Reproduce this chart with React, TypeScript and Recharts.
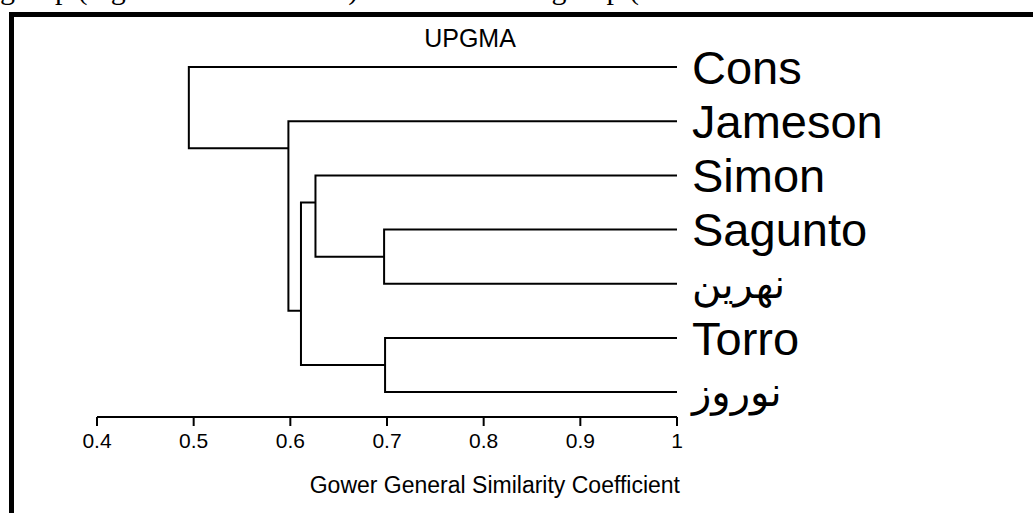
import React from 'react';
import { ScatterChart, Scatter, XAxis, YAxis } from 'recharts';

// leaves, top to bottom
const leafNames = ['Cons', 'Jameson', 'Simon', 'Sagunto', 'نهرین', 'Torro', 'نوروز'];
const leafRows = [0, 1, 2, 3, 4, 5, 6];

// UPGMA joins, root first: similarity level, row where the node's arm leaves, children
const nodeSimilarity = [0.495, 0.598, 0.611, 0.626, 0.697, 0.698];
const nodeArmRow = [0.75, 1.5, 4.5, 2.5, 3.5, 5.5];
const nodeChildren = [
  ['L0', 'N1'],
  ['L1', 'N2'],
  ['N3', 'N5'],
  ['L2', 'N4'],
  ['L3', 'L4'],
  ['L5', 'L6'],
];

const xTicks = [0.4, 0.5, 0.6, 0.7, 0.8, 0.9, 1];

const FONT = '"Liberation Sans", Arial, "DejaVu Sans", sans-serif';

const childPos = (id: string) => {
  const i = Number(id.slice(1));
  return id[0] === 'L'
    ? { x: 1, y: leafRows[i] }
    : { x: nodeSimilarity[i], y: nodeArmRow[i] };
};

// each node drawn as a bracket: child arm -> node level -> other child arm
const brackets = nodeChildren.map(([a, b], i) => {
  const p = childPos(a);
  const q = childPos(b);
  const s = nodeSimilarity[i];
  return [p, { x: s, y: p.y }, { x: s, y: q.y }, q];
});

const NoDot = () => <g />;

// leaf names; the arabic ones come out big in DejaVu, so a bit smaller
const LeafTick = (props: any) => {
  const { x, y, payload } = props;
  const name = leafNames[payload.value];
  const arabic = /[\u0600-\u06FF]/.test(name);
  return (
    <text x={x} y={y} dy="0.355em" textAnchor="start" fontSize={arabic ? 40 : 47} fontFamily={FONT} fill="#000">
      {name}
    </text>
  );
};

export default function App() {
  return (
    <div style={{ position: 'absolute', left: 0, top: 0, width: 1033, height: 513, overflow: 'hidden', background: '#fff' }}>
      {/* frame of the scanned figure */}
      <div style={{ position: 'absolute', left: 9, top: 12, width: 1100, height: 600, borderLeft: '5px solid #000', borderTop: '5px solid #000' }} />

      <ScatterChart width={1033} height={513} margin={{ top: 40, right: 0, bottom: 0, left: 97 }} style={{ position: 'absolute', left: 0, top: 0 }}>
        <XAxis
          type="number"
          dataKey="x"
          domain={[0.4, 1]}
          allowDataOverflow
          ticks={xTicks}
          interval={0}
          tickFormatter={(v: number) => (v === 1 ? '1' : v.toFixed(1))}
          height={96}
          tickSize={9}
          tickMargin={7}
          tick={{ fontSize: 21, fill: '#000', fontFamily: FONT }}
          tickLine={{ stroke: '#000', strokeWidth: 2 }}
          axisLine={{ stroke: '#000', strokeWidth: 2 }}
        />
        <YAxis
          type="number"
          dataKey="y"
          orientation="right"
          reversed
          domain={[-0.5, 6.46]}
          allowDataOverflow
          ticks={leafRows}
          interval={0}
          width={356}
          tickSize={0}
          tickMargin={15}
          axisLine={false}
          tickLine={false}
          tick={<LeafTick />}
        />
        {brackets.map((pts, i) => (
          <Scatter
            key={i}
            data={pts}
            fill="#000"
            line={{ stroke: '#000', strokeWidth: 2 }}
            lineType="joint"
            shape={NoDot}
            isAnimationActive={false}
          />
        ))}
      </ScatterChart>

      <svg width={1033} height={513} style={{ position: 'absolute', left: 0, top: 0, pointerEvents: 'none' }}>
        <text x={0} y={-1.5} fontSize={30} fontFamily='"Liberation Serif", "Times New Roman", serif' fill="#000">
          group (high and most similar) and the second group (low
        </text>
        <text x={470} y={47} textAnchor="middle" fontSize={25} fontFamily={FONT} fill="#000">
          UPGMA
        </text>
        <text x={680} y={493} textAnchor="end" fontSize={23} fontFamily={FONT} fill="#000">
          Gower General Similarity Coefficient
        </text>
      </svg>
    </div>
  );
}
